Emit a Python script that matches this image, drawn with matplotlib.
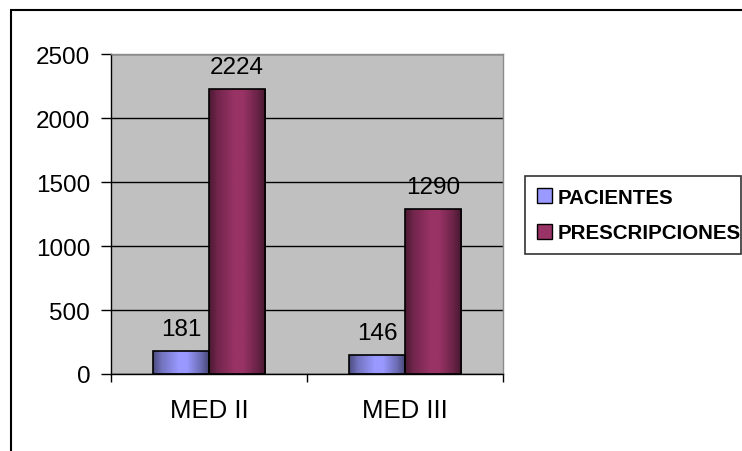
import matplotlib.pyplot as plt
import numpy as np
from matplotlib.patches import Rectangle, Patch
from matplotlib.colors import to_rgb

plt.rcParams['font.family'] = ['Liberation Sans', 'DejaVu Sans']

categorias = ['MED II', 'MED III']
pacientes = [181, 146]
prescripciones = [2224, 1290]
series = ['PACIENTES', 'PRESCRIPCIONES']
colores = ['#9999FF', '#993366']

fig = plt.figure(figsize=(7.42, 4.52), dpi=100)
ax = fig.add_axes([111 / 742, 77 / 452, 392 / 742, 320 / 452])
ax.set_facecolor('#C0C0C0')

# marco exterior del grafico
fig.patches.append(Rectangle((10.5 / 742, -0.2), 1.2, (452 - 10.5) / 452 + 0.2,
                             transform=fig.transFigure, fill=False,
                             edgecolor='black', linewidth=1.5, zorder=0))

x = np.arange(len(categorias))
ancho = 0.286


def degradado(barras, color):
    # sombreado tipo cilindro: oscuro en los bordes, claro al centro
    base = np.array(to_rgb(color))
    t = np.linspace(0, 1, 64)
    f = np.interp(t, [0, 0.15, 0.45, 0.6, 0.85, 1], [0.5, 0.75, 1.0, 1.0, 0.7, 0.45])
    img = (base[None, :] * f[:, None])[None, :, :]
    for b in barras:
        x0, y0 = b.get_x(), b.get_y()
        im = ax.imshow(img, extent=[x0, x0 + b.get_width(), y0, y0 + b.get_height()],
                       aspect='auto', zorder=2, interpolation='bilinear')
        im.set_clip_path(b)


b1 = ax.bar(x - ancho / 2, pacientes, ancho, color=colores[0], edgecolor='black',
            linewidth=1.2, zorder=3)
b2 = ax.bar(x + ancho / 2, prescripciones, ancho, color=colores[1], edgecolor='black',
            linewidth=1.2, zorder=3)
for b in list(b1) + list(b2):
    b.set_facecolor('none')
degradado(b1, colores[0])
degradado(b2, colores[1])

for barras, vals in [(b1, pacientes), (b2, prescripciones)]:
    for b, v in zip(barras, vals):
        ax.annotate(str(v), (b.get_x() + b.get_width() / 2, v), xytext=(0, 11.5),
                    textcoords='offset points', ha='center', va='baseline',
                    fontsize=17.5, zorder=5)

ax.set_xlim(-0.5, 1.5)
ax.set_ylim(0, 2500)
ax.set_yticks([0, 500, 1000, 1500, 2000, 2500])
ax.yaxis.grid(True, color='black', linewidth=1)
ax.set_axisbelow(True)
ax.tick_params(axis='y', direction='out', length=7, width=1, pad=8, labelsize=17.5)

ax.set_xticks(x)
ax.set_xticklabels(categorias)
ax.set_xticks([-0.5, 0.5, 1.5], minor=True)
ax.tick_params(axis='x', which='major', length=0, pad=17, labelsize=18.5)
ax.tick_params(axis='x', which='minor', direction='out', length=6, width=1)

for lado in ['left', 'bottom']:
    ax.spines[lado].set_color('black')
    ax.spines[lado].set_linewidth(1)
for lado in ['top', 'right']:
    ax.spines[lado].set_color('#8C8C8C')
    ax.spines[lado].set_linewidth(1)

manejadores = [Patch(facecolor=c, edgecolor='black', linewidth=1) for c in colores]
leg = fig.legend(manejadores, series, loc='upper left',
                 bbox_to_anchor=(525 / 742, 1 - 255 / 452, 216 / 742, 78 / 452),
                 mode='expand', frameon=True, fancybox=False, handlelength=0.72,
                 handleheight=0.72, handletextpad=0.3, labelspacing=0.8,
                 borderpad=0.58, borderaxespad=0,
                 prop={'weight': 'bold', 'size': 14.8})
leg.get_frame().set_edgecolor('black')
leg.get_frame().set_linewidth(1.2)

plt.savefig('out.png', dpi=100)
